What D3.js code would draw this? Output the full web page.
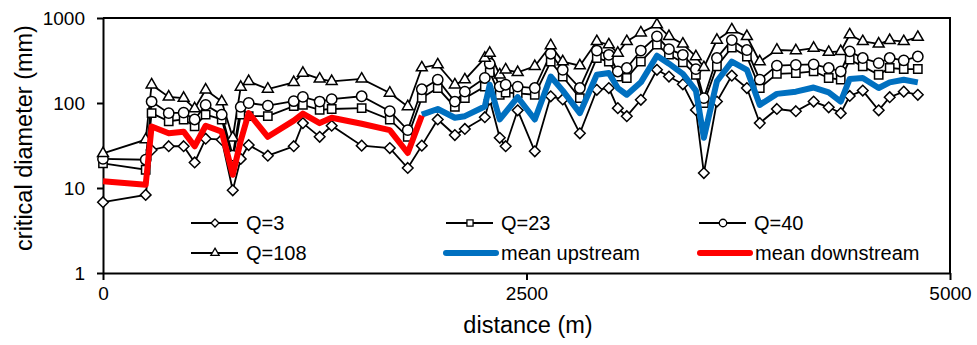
<!DOCTYPE html>
<html><head><meta charset="utf-8">
<script src="https://cdn.jsdelivr.net/npm/d3@7"></script>
<style>
body{margin:0;background:#fff}
svg{display:block}
text{font-family:"Liberation Sans",Arial,sans-serif;fill:#000}
</style>
</head><body><svg id="c" width="977" height="345"></svg>
<script>
// distance along channel (m)
const distance = [0,252,287,388,476,541,606,701,766,813,860,973,1126,1180,1279,1350,1527,1693,1799,1882,1976,2077,2136,2254,2283,2342,2377,2448,2549,2643,2714,2815,2915,2986,3039,3092,3175,3270,3341,3423,3500,3547,3624,3712,3801,3877,3978,4090,4195,4284,4355,4408,4485,4579,4644,4727,4810];
// critical diameter (mm)
const q3   = [6.8,8.3,28,31,31,20,38,37,9.4,22,32,24,31,58,40,54,31.5,29.5,17.2,31.5,64,42,49.5,68,110,39,31,82,27,120,110,44,143,150,87,70,109,246,205,166,83,15,104,210,150,58,85,80,104,89,76,121,140,82,117,136,125];
const q23  = [19.5,16.4,76,61,64,53,73,64,21.5,73,70,70,92,95,83,85,87,64,40,115,150,90,114,156,230,125,133,130,125,307,205,114,338,307,205,197,307,485,370,300,215,100,270,450,352,150,220,225,235,197,188,323,270,215,258,251,251];
const q40  = [22,21.5,104,76,77,64,95,73,24,90,100,93,105,118,104,111,120,80,48,145,188,104,136,197,290,156,164,156,150,380,246,150,414,369,235,258,414,608,430,369,250,114,338,550,420,188,275,281,285,258,235,405,338,295,338,317,352];
const q108 = [25.5,37,164,118,114,86,143,104,39,154,180,146,175,225,192,180,192,131,91,260,282,164,188,338,387,215,246,229,270,475,307,275,530,485,387,530,670,834,608,495,352,262,550,728,608,307,420,414,443,396,405,636,530,496,545,530,595];
// means: downstream covers the first 20 sections, upstream the rest (from section 19)
const meanDownstream = [12,10.9,53,44,46,31,54,46,14.3,36,76,40,62,75,58,67,57,48,25.8,71];
const meanUpstream = [73,85,67,70,91,164,64,78,117,64,205,140,76,215,225,150,125,175,360,290,220,140,39,180,307,246,95,128,136,152,133,104,192,197,150,175,188,175];
const upstreamStart = 19;
const yTicks = [1,10,100,1000];
const xTicks = [0,2500,5000];
const seriesNames = ["Q=3","Q=23","Q=40","Q=108","mean upstream","mean downstream"];

const svg = d3.select("#c");
const x = d3.scaleLinear().domain([0,5000]).range([103,950]);
const y = d3.scaleLog().domain([1,1000]).range([273,18]);

// plot border (top/right)
svg.append("path").attr("d",`M${x(0)},${y(1000)}H${x(5000)}V${y(1)}`)
  .attr("fill","none").attr("stroke","#000").attr("stroke-width",2);

const yAxis = svg.append("g").attr("transform",`translate(${x(0)},0)`)
  .call(d3.axisLeft(y).tickValues(yTicks).tickFormat(d3.format("d")).tickSize(6).tickSizeOuter(0).tickPadding(12));
const xAxis = svg.append("g").attr("transform",`translate(0,${y(1)})`)
  .call(d3.axisBottom(x).tickValues(xTicks).tickFormat(d3.format("d")).tickSize(7).tickSizeOuter(0).tickPadding(7));
[yAxis,xAxis].forEach(g=>{
  g.select(".domain").attr("stroke","#000").attr("stroke-width",2);
  g.selectAll(".tick line").attr("stroke","#000").attr("stroke-width",2);
  g.selectAll(".tick text").attr("font-size",19).attr("font-family","Liberation Sans, Arial, sans-serif").attr("fill","#000");
});

svg.append("text").attr("x",528).attr("y",333).attr("text-anchor","middle").attr("font-size",23.5).text("distance (m)");
svg.append("text").attr("transform","translate(32,138) rotate(-90)").attr("text-anchor","middle").attr("font-size",23.5).text("critical diameter (mm)");

const line = d3.line().x(d=>x(d[0])).y(d=>y(d[1]));
const sets = [q3,q23,q40,q108];
const shapes = [d3.symbolDiamond2, d3.symbolSquare2, d3.symbolCircle, d3.symbolTriangle2];
const sizes = [72,88,84,85];
const lsizes = [40,48,44,50];

sets.forEach(arr=>{
  svg.append("path").datum(distance.map((d,i)=>[d,arr[i]]))
    .attr("d",line).attr("fill","none").attr("stroke","#000").attr("stroke-width",1.8);
});
sets.forEach((arr,k)=>{
  const sym = d3.symbol().type(shapes[k]).size(sizes[k]);
  svg.append("g").selectAll("path").data(distance.map((d,i)=>[d,arr[i]])).join("path")
    .attr("transform",d=>`translate(${x(d[0])},${y(d[1])})`)
    .attr("d",sym).attr("fill","#fff").attr("stroke","#000").attr("stroke-width",1.5);
});

const up = meanUpstream.map((v,i)=>[distance[upstreamStart+i],v]);
const down = meanDownstream.map((v,i)=>[distance[i],v]);
svg.append("path").datum(up).attr("d",line).attr("fill","none").attr("stroke","#0070C0").attr("stroke-width",6).attr("stroke-linejoin","round");
svg.append("path").datum(down).attr("d",line).attr("fill","none").attr("stroke","#FF0000").attr("stroke-width",6).attr("stroke-linejoin","round");

// legend
const legPos = [[191,223],[446,223],[699,223],[191,253],[444,253],[698,253]];
seriesNames.forEach((name,k)=>{
  const [lx,ly] = legPos[k];
  const g = svg.append("g");
  if(k<4){
    g.append("line").attr("x1",lx).attr("x2",lx+47).attr("y1",ly).attr("y2",ly).attr("stroke","#000").attr("stroke-width",1.8);
    g.append("path").attr("transform",`translate(${lx+24},${ly})`).attr("d",d3.symbol().type(shapes[k]).size(lsizes[k]))
      .attr("fill","#fff").attr("stroke","#000").attr("stroke-width",1.3);
    g.append("text").attr("x",lx+55).attr("y",ly).attr("dy","0.35em").attr("font-size",20).text(name);
  } else {
    g.append("line").attr("x1",lx+2).attr("x2",lx+52).attr("y1",ly).attr("y2",ly)
      .attr("stroke",k===4?"#0070C0":"#FF0000").attr("stroke-width",6).attr("stroke-linecap","round");
    g.append("text").attr("x",lx+57).attr("y",ly).attr("dy","0.35em").attr("font-size",20).text(name);
  }
});
</script></body></html>
